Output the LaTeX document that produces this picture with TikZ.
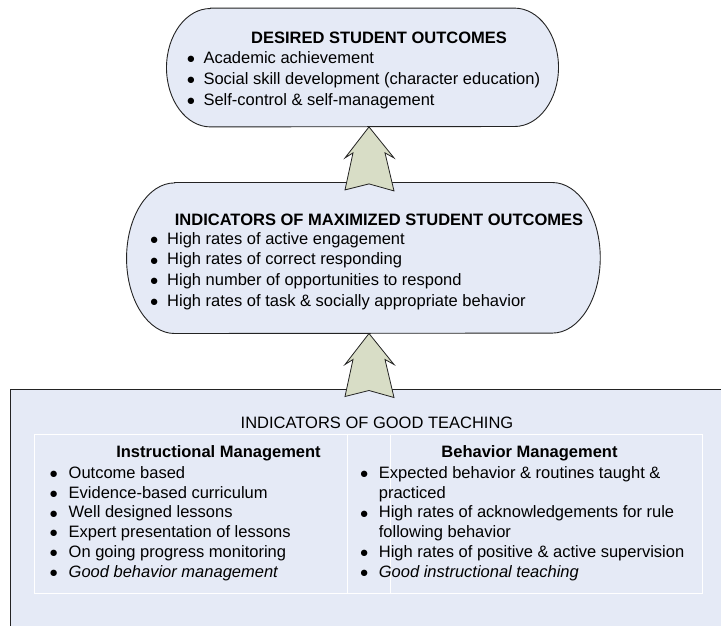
\documentclass[tikz,border=0pt]{standalone}
\usepackage{fontspec}
\setmainfont{Liberation Sans}
\newfontfamily\dotfont{DejaVu Sans}
\usepackage{array}
\usetikzlibrary{positioning}

\definecolor{bubblefill}{RGB}{229,234,246}
\definecolor{arrowfill}{RGB}{216,221,198}
\definecolor{edgegray}{RGB}{35,35,35}

\newcommand{\bul}{\raisebox{1.6pt}{\dotfont\fontsize{8.3}{9}\selectfont ●}}
% outline with elliptic ends round a placeholder node
\newcommand{\bubbleoutline}[3]{%
    \draw[bubble] ([xshift=#2]#1.north west) -- ([xshift=-#2]#1.north east)
        arc[start angle=90,end angle=-90,x radius=#2,y radius=#3]
        -- ([xshift=#2]#1.south west)
        arc[start angle=270,end angle=90,x radius=#2,y radius=#3] -- cycle;}

\begin{document}
\begin{tikzpicture}[x=1pt,y=-1pt,
        holder/.style={inner sep=0pt},
        bubble/.style={draw=edgegray,fill=bubblefill,line width=0.9pt},
        bigarrow/.style={draw=edgegray,fill=arrowfill,line width=0.8pt,line join=miter},
        gridline/.style={draw=white,line width=0.8pt},
        txt/.style={inner sep=0pt,anchor=base west},
        head/.style={inner sep=0pt,anchor=base,font=\fontsize{16.5}{20}\selectfont\bfseries}]
        \useasboundingbox (0,0) rectangle (721,625);
        % the three boxes
        \node[holder,minimum width=391.6pt,minimum height=118.4pt] (desired) at (362.5,67.5) {};
        \node[holder,minimum width=473.3pt,minimum height=150.6pt] (maxout) at (363.4,258) {};
        \bubbleoutline{desired}{44pt}{59.2pt}
        \bubbleoutline{maxout}{48pt}{75.3pt}
        \node[bubble,inner sep=0pt,line width=1.2pt,minimum width=740pt,minimum height=260pt,anchor=north west] (teaching) at (10,389) {};
        \draw[gridline] (34,434.3) rectangle (702,593.3);
        \draw[gridline] (347,434.3) -- (347,593.3);
        \draw[gridline] (390,434.3) -- (390,593.3);
        % top box
        \node[head] (desiredtitle) at (379,43.3) {DESIRED STUDENT OUTCOMES};
        \node[txt,font=\fontsize{16.5}{20.85}\selectfont] (desiredlist) at (187.2,63.3) {%
            \begin{tabular}[t]{@{}p{16.1pt}@{}l@{}}
            \bul & Academic achievement\\
            \bul & Social skill development (character education)\\
            \bul & Self-control \& self-management
            \end{tabular}};
        % middle box
        \node[head] (maxtitle) at (379,225.7) {INDICATORS OF MAXIMIZED STUDENT OUTCOMES};
        \node[txt,font=\fontsize{16.5}{20.6}\selectfont] (maxlist) at (150.4,244.3) {%
            \begin{tabular}[t]{@{}p{16.6pt}@{}l@{}}
            \bul & High rates of active engagement\\
            \bul & High rates of correct responding\\
            \bul & High number of opportunities to respond\\
            \bul & High rates of task \& socially appropriate behavior
            \end{tabular}};
        % bottom box
        \node[head,font=\fontsize{16.5}{20}\selectfont] (teachtitle) at (377,428) {INDICATORS OF GOOD TEACHING};
        \node[head] (instrhead) at (218.5,457.7) {Instructional Management};
        \node[head] (behavhead) at (529.5,457.7) {Behavior Management};
        \node[txt,font=\fontsize{16.5}{19.74}\selectfont] (instrlist) at (49.8,478.3) {%
            \begin{tabular}[t]{@{}p{18.7pt}@{}l@{}}
            \bul & Outcome based\\
            \bul & Evidence-based curriculum\\
            \bul & Well designed lessons\\
            \bul & Expert presentation of lessons\\
            \bul & On going progress monitoring\\
            \bul & \textit{Good behavior management}
            \end{tabular}};
        \node[txt,font=\fontsize{16.5}{19.74}\selectfont] (behavlist) at (360.4,478.3) {%
            \begin{tabular}[t]{@{}p{18.3pt}@{}l@{}}
            \bul & Expected behavior \& routines taught \&\\
                 & practiced\\
            \bul & High rates of acknowledgements for rule\\
                 & following behavior\\
            \bul & High rates of positive \& active supervision\\
            \bul & \textit{Good instructional teaching}
            \end{tabular}};
        % block arrows
        \draw[bigarrow] ([xshift=6.5pt]desired.south) -- ++(-24,31) -- ++(8,-5) -- ++(-8,37)
            -- ++(24,-6) -- ++(25,7) -- ++(-9,-38) -- ++(9,5) -- cycle;
        \draw[bigarrow] ([xshift=5.6pt]maxout.south) -- ++(-24,31) -- ++(8,-5) -- ++(-8,37)
            -- ++(24,-6) -- ++(25,7) -- ++(-9,-38) -- ++(9,5) -- cycle;
    \end{tikzpicture}
\end{document}
